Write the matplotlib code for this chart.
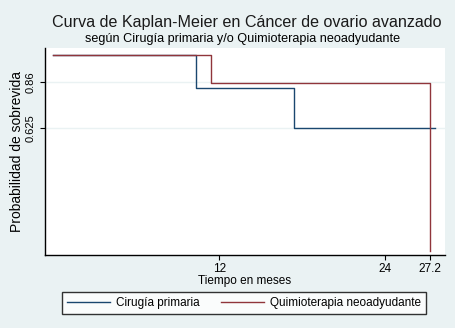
import matplotlib
matplotlib.use("Agg")
import matplotlib.pyplot as plt

plt.rcParams['font.family'] = ['Liberation Sans', 'DejaVu Sans']

# Data
cir_times = [0, 10.3, 17.4, 27.6]
cir_surv = [1.0, 0.833, 0.625, 0.625]
qui_times = [0, 11.4, 27.2, 27.2]
qui_surv = [1.0, 0.857, 0.857, 0.0]
xticks = [12, 24, 27.2]
xticklabels = ["12", "24", "27.2"]
yticks = [0.625, 0.86]
yticklabels = ["0.625", "0.86"]
labels = ["Cirugía primaria", "Quimioterapia neoadyudante"]

bg = "#eaf2f3"
blue = "#1a476f"
red = "#90353b"

W, H = 455, 328
fig = plt.figure(figsize=(W / 100, H / 100), dpi=100, facecolor=bg)
ax = fig.add_axes([45 / W, (H - 255) / H, 400 / W, (255 - 48) / H])
ax.set_facecolor("white")

for y in yticks:
    ax.axhline(y, color=bg, lw=1.0, zorder=0)

l1, = ax.step(cir_times, cir_surv, where='post', color=blue, lw=1.0, label=labels[0])
l2, = ax.step(qui_times, qui_surv, where='post', color=red, lw=1.0, label=labels[1])

ax.set_xlim(-0.58, 28.3)
ax.set_ylim(-0.022, 1.035)
ax.set_xticks(xticks)
ax.set_xticklabels(xticklabels, fontsize=8.5)
ax.set_yticks(yticks)
ax.set_yticklabels(yticklabels, fontsize=8, rotation=90, va='center')
ax.tick_params(axis='both', direction='out', length=3.6, width=0.8, color='black')
ax.tick_params(axis='x', pad=2.5)
ax.tick_params(axis='y', pad=3.2)
for s in ['top', 'right']:
    ax.spines[s].set_visible(False)
for s in ['left', 'bottom']:
    ax.spines[s].set_linewidth(1.0)

ax.set_xlabel("Tiempo en meses", fontsize=8.5, labelpad=-0.5)
ax.set_ylabel("Probabilidad de sobrevida", fontsize=10)
ax.yaxis.set_label_coords((24 - 45) / 400, 0.5)

fig.text(247 / W, 1 - 22 / H, "Curva de Kaplan-Meier en Cáncer de ovario avanzado",
         ha='center', va='center', fontsize=11.6, color='#1a1a1a')
fig.text(243 / W, 1 - 39 / H, "según Cirugía primaria y/o Quimioterapia neoadyudante",
         ha='center', va='center', fontsize=9.1, color='black')

leg = fig.legend(handles=[l1, l2], labels=labels, loc='center',
                 bbox_to_anchor=(244 / W, 1 - 303 / H), ncol=2, fontsize=8.5,
                 frameon=True, fancybox=False, edgecolor='black', facecolor='white',
                 handlelength=3.64, columnspacing=1.85, borderpad=0.45, handletextpad=0.5,
                 borderaxespad=0)
leg.get_frame().set_linewidth(1.0)

fig.savefig("out.png", dpi=100, facecolor=bg)
